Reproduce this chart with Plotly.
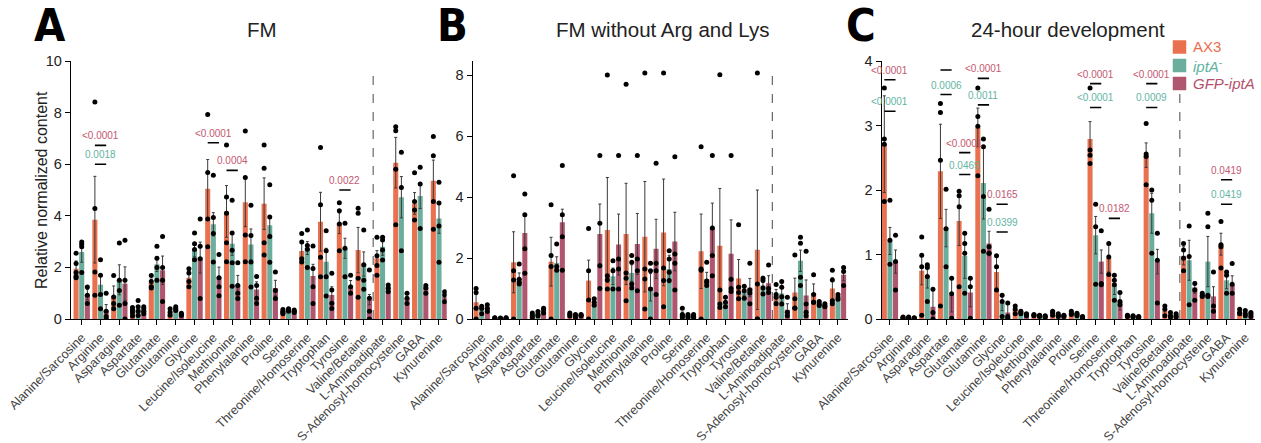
import plotly.graph_objects as go

categories = [
    "Alanine/Sarcosine", "Arginine", "Asparagine", "Aspartate", "Glutamate",
    "Glutamine", "Glycine", "Leucine/Isoleucine", "Methionine", "Phenylalanine",
    "Proline", "Serine", "Threonine/Homoserine", "Tryptophan", "Tyrosine",
    "Valine/Betaine", "L-Aminoadipate", "S-Adenosyl-homocysteine", "GABA", "Kynurenine",
]

# ---------------- Panel A: FM ----------------
fm_ax3_mean = [1.95, 3.85, 0.88, 0.3, 1.4, 0.27, 1.6, 5.05, 4.17, 4.53, 4.47, 0.3, 2.64, 3.77, 3.71, 2.67, 2.35, 6.06, 4.48, 5.36]
fm_ax3_err = [0.3, 1.68, 0.4, 0.1, 0.15, 0.08, 0.18, 1.13, 1.0, 0.95, 1.0, 0.07, 0.3, 1.14, 0.4, 0.88, 0.3, 0.98, 0.42, 0.8]
fm_ax3_pts = [
    [2.55, 2.15, 1.8, 1.65, 1.6], [8.41, 4.28, 1.82, 0.92], [1.69, 0.85, 0.6, 0.4], [0.45, 0.35, 0.25, 0.12],
    [1.69, 1.45, 1.25, 1.2], [0.4, 0.27, 0.15], [1.95, 1.78, 1.45, 1.25], [7.93, 5.68, 3.88, 2.8],
    [6.74, 4.73, 4.1, 2.96, 2.22], [7.29, 5.48, 3.26, 2.22], [6.74, 5.84, 2.96, 2.48], [0.37, 0.3, 0.25, 0.2],
    [3.31, 2.98, 2.34, 2.21], [6.65, 4.43, 2.39, 1.64], [4.51, 4.2, 3.68, 2.65], [4.29, 4.1, 1.58, 0.84],
    [3.17, 2.45, 2.07, 1.7], [7.45, 7.3, 5.8, 3.65], [5.67, 4.55, 4.22, 3.84], [7.07, 6.33, 4.55, 3.48],
]
fm_ipta_mean = [2.6, 1.33, 1.52, 0.4, 2.12, 0.4, 2.69, 3.67, 2.92, 2.89, 3.63, 0.35, 2.75, 2.22, 2.74, 2.13, 2.8, 4.72, 4.77, 3.9]
fm_ipta_err = [0.4, 0.36, 0.58, 0.12, 0.28, 0.06, 0.28, 0.45, 0.45, 0.6, 0.35, 0.05, 0.25, 0.52, 0.39, 0.47, 0.33, 0.8, 0.49, 0.58]
fm_ipta_pts = [
    [2.98, 2.9, 2.8, 1.8], [2.3, 1.7, 0.95, 0.4], [2.95, 1.5, 1.1, 0.53], [0.72, 0.47, 0.3, 0.14],
    [2.82, 2.35, 2.0, 1.5], [0.47, 0.4, 0.33], [3.33, 2.92, 2.69, 2.3], [5.57, 3.93, 3.31, 2.21],
    [4.6, 3.33, 2.66, 2.18, 1.27], [4.41, 3.24, 2.21, 1.24], [5.2, 3.95, 3.2, 2.2], [0.4, 0.35, 0.3],
    [3.45, 2.85, 2.7, 2.0], [3.42, 2.65, 1.64, 0.89], [3.71, 2.74, 1.64], [3.45, 2.1, 1.5, 1.15],
    [3.17, 3.06, 2.67, 2.29], [6.46, 5.1, 2.65], [5.88, 5.23, 3.51], [5.3, 4.5, 3.6, 2.2],
]
fm_gfp_mean = [0.94, 0.34, 1.37, 0.34, 1.89, 0.18, 2.38, 1.63, 1.33, 1.14, 1.2, 0.3, 1.67, 0.93, 1.28, 0.75, 1.25, 0.8, 1.23, 0.85]
fm_gfp_err = [0.2, 0.22, 0.65, 0.1, 0.55, 0.05, 0.6, 0.38, 0.36, 0.3, 0.3, 0.05, 0.45, 0.32, 0.21, 0.2, 0.1, 0.2, 0.1, 0.15]
fm_gfp_pts = [
    [1.24, 0.92, 0.6], [1.0, 0.3, 0.1, 0.0], [3.05, 1.5, 0.6, 0.0], [0.47, 0.4, 0.3, 0.2],
    [3.2, 2.0, 1.5, 0.68], [0.22, 0.18, 0.14], [3.88, 2.82, 2.34, 0.79], [2.5, 1.6, 1.25, 0.9],
    [2.18, 1.3, 1.0, 0.79], [1.65, 1.3, 0.8, 0.6], [1.82, 1.1, 0.79], [0.35, 0.3, 0.25],
    [2.83, 1.96, 1.25, 0.6], [1.77, 1.12, 0.61, 0.41], [1.7, 1.25, 1.0], [1.9, 0.8, 0.3, 0.0],
    [1.32, 1.19, 1.06], [1.0, 0.8, 0.6], [1.3, 1.2, 1.0], [1.06, 0.93, 0.67],
]

# ---------------- Panel B: FM without Arg and Lys ----------------
noarg_ax3_mean = [0.55, 0.03, 1.86, 0.12, 1.88, 0.15, 1.26, 2.92, 2.79, 2.7, 2.84, 0.15, 2.22, 2.4, 1.33, 2.27, 0.77, 0.87, 0.85, 1.0]
noarg_ax3_err = [0.25, 0.01, 1.0, 0.05, 0.8, 0.05, 0.67, 1.72, 1.66, 1.81, 1.75, 0.08, 1.22, 1.88, 0.62, 1.96, 0.2, 0.47, 0.3, 0.35]
noarg_ax3_pts = [
    [1.0, 0.87, 0.35, 0.0], [0.04, 0.03, 0.02], [4.7, 1.58, 1.28, 0.0], [0.2, 0.12, 0.05],
    [3.75, 2.08, 1.72, 0.0], [0.2, 0.15, 0.1], [2.97, 1.58, 0.62, 0.0], [8.0, 1.42, 1.28, 0.98],
    [7.7, 1.51, 1.34, 0.6], [8.07, 1.64, 1.31, 0.33], [8.07, 1.67, 1.26, 0.4], [0.35, 0.15, 0.1, 0.05],
    [5.65, 1.64, 1.6, 0.0], [8.01, 0.95, 0.49, 0.38], [3.09, 1.04, 0.87, 0.66], [8.07, 1.15, 0.0, 0.0],
    [1.13, 0.8, 0.71, 0.5], [2.1, 0.66, 0.36, 0.35], [1.45, 0.8, 0.55, 0.55], [1.6, 1.28, 0.6, 0.5],
]
noarg_ipta_mean = [0.35, 0.02, 1.31, 0.18, 1.84, 0.1, 0.55, 1.4, 1.51, 1.04, 1.64, 0.1, 1.31, 0.55, 0.9, 1.1, 0.84, 1.91, 0.5, 0.72]
noarg_ipta_err = [0.08, 0.01, 0.2, 0.06, 0.2, 0.04, 0.1, 0.27, 0.27, 0.45, 0.45, 0.04, 0.22, 0.15, 0.12, 0.3, 0.35, 0.35, 0.07, 0.08]
noarg_ipta_pts = [
    [0.42, 0.35, 0.17], [0.03, 0.02, 0.01], [1.8, 1.3, 1.2, 1.15], [0.25, 0.15, 0.1],
    [2.46, 1.72, 1.6], [0.15, 0.1, 0.05], [0.66, 0.55, 0.45], [1.91, 1.58, 0.98],
    [2.08, 1.86, 1.15, 1.02], [1.83, 1.58, 0.98, 0.0], [2.24, 1.97, 1.53, 1.26], [0.15, 0.1, 0.05],
    [1.86, 1.25, 1.2, 1.1], [0.71, 0.55, 0.4], [1.07, 0.93, 0.68], [1.34, 1.26, 1.02, 0.82],
    [1.23, 1.04, 0.73, 0.49], [2.68, 2.48, 1.37, 1.1], [0.57, 0.49, 0.44], [0.8, 0.72, 0.65],
]
noarg_gfp_mean = [0.35, 0.03, 2.82, 0.28, 3.17, 0.12, 2.79, 2.44, 2.46, 2.3, 2.54, 0.1, 3.0, 2.14, 1.03, 1.17, 0.3, 0.77, 0.44, 1.45]
noarg_gfp_err = [0.1, 0.01, 0.54, 0.08, 0.43, 0.04, 0.98, 1.0, 1.0, 0.97, 0.96, 0.04, 0.8, 1.11, 0.3, 0.25, 0.2, 0.51, 0.05, 0.2]
noarg_gfp_pts = [
    [0.47, 0.35, 0.25], [0.04, 0.03, 0.02], [4.1, 3.42, 2.3, 1.5], [0.35, 0.3, 0.2],
    [5.03, 3.42, 2.7, 1.6], [0.15, 0.12, 0.1], [5.36, 3.14, 1.75, 1.0], [5.36, 1.97, 1.64, 0.98],
    [5.36, 1.97, 1.58, 0.93], [5.11, 1.83, 1.58, 0.8], [5.32, 2.13, 1.83, 0.95], [0.15, 0.1, 0.05],
    [5.36, 2.98, 2.08, 1.42], [5.36, 1.3, 1.0, 0.9], [1.83, 0.95, 0.85, 0.5], [1.77, 1.0, 0.87],
    [0.71, 0.22, 0.11], [2.22, 0.49, 0.22, 0.11], [0.5, 0.44, 0.4], [1.69, 1.56, 1.1],
]

# ---------------- Panel C: 24-hour development ----------------
dev_ax3_mean = [2.71, 0.02, 0.75, 2.29, 1.52, 2.97, 0.73, 0.14, 0.06, 0.09, 0.09, 2.79, 0.94, 0.05, 2.54, 0.13, 0.98, 0.37, 1.16, 0.11]
dev_ax3_err = [0.75, 0.01, 0.22, 0.73, 0.38, 0.3, 0.25, 0.05, 0.01, 0.03, 0.03, 0.27, 0.21, 0.01, 0.19, 0.08, 0.14, 0.03, 0.17, 0.03]
dev_ax3_pts = [
    [3.58, 2.79, 2.71, 1.82], [0.03, 0.02, 0.01], [1.27, 0.99, 0.81, 0.06], [3.34, 3.2, 2.46, 0.2],
    [1.98, 1.91, 1.74, 0.5], [3.58, 3.14, 2.99, 2.22], [0.98, 0.81, 0.45], [0.2, 0.15, 0.08],
    [0.07, 0.06, 0.05], [0.12, 0.1, 0.06], [0.12, 0.09, 0.07], [3.58, 2.62, 2.54, 2.41],
    [1.17, 0.96, 0.69], [0.06, 0.05, 0.04], [3.03, 2.56, 2.52, 2.08], [0.2, 0.15, 0.05],
    [1.17, 1.07, 0.94, 0.75], [0.4, 0.37, 0.35], [1.51, 1.15, 1.12, 0.79], [0.15, 0.1, 0.08],
]
dev_ipta_mean = [1.21, 0.02, 0.66, 1.41, 0.98, 2.11, 0.25, 0.1, 0.05, 0.06, 0.07, 1.3, 0.53, 0.04, 1.64, 0.06, 0.91, 0.89, 0.6, 0.09]
dev_ipta_err = [0.21, 0.01, 0.18, 0.29, 0.35, 0.56, 0.12, 0.03, 0.01, 0.02, 0.02, 0.29, 0.15, 0.01, 0.31, 0.03, 0.31, 0.39, 0.13, 0.03]
dev_ipta_pts = [
    [1.84, 1.22, 0.85], [0.03, 0.02, 0.01], [0.84, 0.8, 0.66, 0.27], [2.01, 1.4, 0.81],
    [1.33, 1.17, 1.02, 0.4], [2.79, 2.67, 1.9, 1.05], [0.37, 0.27, 0.04], [0.12, 0.1, 0.08],
    [0.06, 0.05, 0.04], [0.08, 0.06, 0.04], [0.09, 0.07, 0.05], [1.78, 1.43, 0.54],
    [0.68, 0.6, 0.53, 0.29], [0.05, 0.04, 0.03], [2.0, 1.84, 1.02], [0.1, 0.05, 0.03],
    [1.44, 0.97, 0.22], [1.64, 1.43, 0.37, 0.35], [0.73, 0.68, 0.4], [0.13, 0.08, 0.05],
]
dev_gfp_mean = [0.89, 0.01, 0.19, 0.37, 0.41, 1.17, 0.1, 0.07, 0.04, 0.05, 0.03, 0.89, 0.27, 0.03, 0.89, 0.05, 0.49, 0.35, 0.53, 0.08]
dev_gfp_err = [0.18, 0.01, 0.26, 0.26, 0.22, 0.19, 0.13, 0.02, 0.01, 0.01, 0.01, 0.18, 0.13, 0.01, 0.19, 0.02, 0.09, 0.15, 0.14, 0.02]
dev_gfp_pts = [
    [1.3, 0.89, 0.45], [0.02, 0.01, 0.01], [0.46, 0.1, 0.0], [0.63, 0.39, 0.01],
    [0.63, 0.5, 0.01], [1.7, 1.12, 1.02, 1.02], [0.25, 0.04, 0.01], [0.08, 0.07, 0.05],
    [0.05, 0.04, 0.03], [0.06, 0.05, 0.04], [0.04, 0.03, 0.02], [1.37, 0.55, 0.53],
    [0.41, 0.27, 0.22], [0.04, 0.03, 0.02], [1.33, 0.91, 0.25], [0.08, 0.05, 0.03],
    [0.55, 0.45, 0.29], [0.73, 0.2, 0.12], [0.86, 0.54, 0.4], [0.1, 0.08, 0.04],
]

# p-values: (category index, label, comparison) ; "m" = AX3 vs GFP-iptA, "t" = AX3 vs iptA-
fm_pvalues = [(1, "<0.0001", "m"), (1, "0.0018", "t"), (7, "<0.0001", "m"), (8, "0.0004", "m"), (14, "0.0022", "m")]
dev_pvalues = [
    (0, "<0.0001", "m"), (0, "<0.0001", "t"), (3, "<0.0001", "m"), (3, "0.0006", "t"),
    (4, "<0.0001", "m"), (4, "0.0469", "t"), (5, "<0.0001", "m"), (5, "0.0011", "t"),
    (6, "0.0165", "m"), (6, "0.0399", "t"), (11, "<0.0001", "m"), (11, "<0.0001", "t"),
    (12, "0.0182", "m"), (14, "<0.0001", "m"), (14, "0.0009", "t"), (18, "0.0419", "m"), (18, "0.0419", "t"),
]
# height of each comparison bracket (value units)
fm_bracket_y = [6.73, 6.0, 6.83, 5.76, 5.0]
dev_bracket_y = [3.71, 3.22, 3.86, 3.48, 2.58, 2.24, 3.73, 3.32, 1.78, 1.35, 3.65, 3.28, 1.56, 3.65, 3.28, 2.16, 1.78]

# ---------------- styling ----------------
C_AX3, C_IPTA, C_GFP = "#E9714F", "#6BAE9D", "#B0566F"
T_AX3, T_IPTA, T_GFP = "#EE6C4C", "#5FB3A1", "#B5506E"
P_MAUVE, P_TEAL = "#C4586F", "#63B4A4"
FONT = "Liberation Sans, Arial, sans-serif"
W, H = 1261, 443

legend_labels = ["AX3", "<i>iptA</i><sup>-</sup>", "<i>GFP-iptA</i>"]
legend_text_colors = [T_AX3, T_IPTA, T_GFP]
group_colors = [C_AX3, C_IPTA, C_GFP]
offsets = [-0.3, 0.0, 0.3]

panels = [
    dict(ax="", means=[fm_ax3_mean, fm_ipta_mean, fm_gfp_mean], errs=[fm_ax3_err, fm_ipta_err, fm_gfp_err],
         pts=[fm_ax3_pts, fm_ipta_pts, fm_gfp_pts], px=(71, 446.7), xr=[-0.57, 19.41], yr=[0, 10],
         ytick=[0, 2, 4, 6, 8, 10], dash_top=9.65, title="FM", title_x=262, letter="A", letter_x=50),
    dict(ax="2", means=[noarg_ax3_mean, noarg_ipta_mean, noarg_gfp_mean], errs=[noarg_ax3_err, noarg_ipta_err, noarg_gfp_err],
         pts=[noarg_ax3_pts, noarg_ipta_pts, noarg_gfp_pts], px=(472.7, 848.3), xr=[-0.48, 19.55], yr=[0, 8.46],
         ytick=[0, 2, 4, 6, 8], dash_top=8.22, title="FM without Arg and Lys", title_x=662, letter="B", letter_x=452),
    dict(ax="3", means=[dev_ax3_mean, dev_ipta_mean, dev_gfp_mean], errs=[dev_ax3_err, dev_ipta_err, dev_gfp_err],
         pts=[dev_ax3_pts, dev_ipta_pts, dev_gfp_pts], px=(881.7, 1255), xr=[-0.44, 19.52], yr=[0, 4],
         ytick=[0, 1, 2, 3, 4], dash_top=3.52, title="24-hour development", title_x=1068, letter="C", letter_x=861),
]

y_bottom = (H - 319) / H
y_top = (H - 61) / H

fig = go.Figure()
layout = dict(
    width=W, height=H, margin=dict(l=0, r=0, t=0, b=0, autoexpand=False),
    paper_bgcolor="white", plot_bgcolor="white", barmode="overlay",
    font=dict(family=FONT, color="#222"),
    showlegend=False,
)
shapes, annotations = [], []

for pi, p in enumerate(panels):
    xa, ya = "x" + p["ax"], "y" + p["ax"]
    for g in range(3):
        xs = [i + offsets[g] for i in range(len(categories))]
        fig.add_trace(go.Bar(
            x=xs, y=p["means"][g], width=0.27, xaxis=xa, yaxis=ya,
            marker=dict(color=group_colors[g], line=dict(width=0)),
            error_y=dict(type="data", array=p["errs"][g], visible=True, color="#3a3a3a", thickness=1, width=1.5),
        ))
    for g in range(3):
        px_, py_ = [], []
        for i, vals in enumerate(p["pts"][g]):
            for v in vals:
                px_.append(i + offsets[g])
                py_.append(v)
        fig.add_trace(go.Scatter(
            x=px_, y=py_, mode="markers", xaxis=xa, yaxis=ya,
            marker=dict(color="black", size=5, line=dict(width=0)),
        ))

    d0, d1 = p["px"][0] / W, p["px"][1] / W
    layout["xaxis" + p["ax"]] = dict(
        domain=[d0, d1], range=p["xr"], anchor=ya, tickmode="array", automargin=False,
        tickvals=list(range(len(categories))), ticktext=categories, tickangle=-45,
        tickfont=dict(size=12.6, color="#444", family=FONT), ticks="outside", ticklen=5, tickwidth=1.2,
        tickcolor="black", showline=True, linecolor="black", linewidth=1.4, showgrid=False, zeroline=False,
    )
    layout["yaxis" + p["ax"]] = dict(
        domain=[y_bottom, y_top], range=p["yr"], anchor=xa, tickmode="array", tickvals=p["ytick"], automargin=False,
        tickfont=dict(size=14.5, color="#222", family=FONT), ticks="outside", ticklen=5, tickwidth=1.2,
        tickcolor="black", showline=True, linecolor="black", linewidth=1.4, showgrid=False, zeroline=False,
    )

    # separator between amino acids and other metabolites
    shapes.append(dict(type="line", xref=xa, yref=ya, x0=15.5, x1=15.5, y0=0, y1=p["dash_top"],
                       line=dict(color="#666", width=1.2, dash="dash")))

    annotations.append(dict(text=p["title"], x=p["title_x"] / W, y=(H - 29) / H, xref="paper", yref="paper",
                            xanchor="center", yanchor="middle", showarrow=False,
                            font=dict(size=20.5, color="#222", family=FONT)))
    annotations.append(dict(text="<b>" + p["letter"] + "</b>", x=p["letter_x"] / W, y=(H - 25) / H,
                            xref="paper", yref="paper", xanchor="center", yanchor="middle", showarrow=False,
                            font=dict(size=45, color="black", family="Liberation Sans Narrow, DejaVu Sans Condensed, sans-serif")))

# y-axis title for the first panel
annotations.append(dict(text="Relative normalized content", x=42 / W, y=(H - 190) / H, xref="paper", yref="paper",
                        xanchor="center", yanchor="middle", textangle=-90, showarrow=False,
                        font=dict(size=16, color="#222", family=FONT)))

# legend: colour swatches with coloured labels
legend_centers = [47, 65.5, 83.5]
for g in range(3):
    yc = legend_centers[g]
    shapes.append(dict(type="rect", xref="paper", yref="paper", x0=1173 / W, x1=1186 / W,
                       y0=(H - yc - 6.5) / H, y1=(H - yc + 6.5) / H,
                       fillcolor=group_colors[g], line=dict(color=group_colors[g], width=0.5)))
    annotations.append(dict(text=legend_labels[g], x=1191 / W, y=(H - yc) / H, xref="paper", yref="paper",
                            xanchor="left", yanchor="middle", showarrow=False,
                            font=dict(size=15, color=legend_text_colors[g], family=FONT)))

# p-value brackets and labels
unit_a = 10 / (319 - 61)
unit_c = 4 / (319 - 61)
for (pv, yb, xa, ya, unit) in [(fm_pvalues, fm_bracket_y, "x", "y", unit_a), (dev_pvalues, dev_bracket_y, "x3", "y3", unit_c)]:
    for (cat, label, kind), yl in zip(pv, yb):
        col = P_MAUVE if kind == "m" else P_TEAL
        shapes.append(dict(type="line", xref=xa, yref=ya, x0=cat - 0.3, x1=cat + 0.3, y0=yl, y1=yl,
                           line=dict(color="black", width=1.6)))
        annotations.append(dict(text=label, x=cat, y=yl + 9.5 * unit, xref=xa, yref=ya, showarrow=False,
                                font=dict(size=10, color=col, family=FONT), xanchor="center", yanchor="middle"))

layout["shapes"] = shapes
layout["annotations"] = annotations
fig.update_layout(**layout)
fig.write_html("out.html")
